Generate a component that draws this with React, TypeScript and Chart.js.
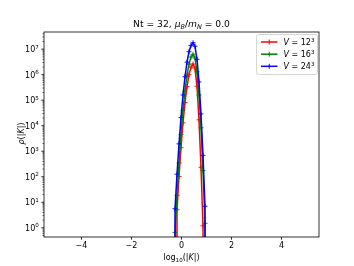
import React, { useEffect, useRef } from "react";
import { Chart, registerables } from "chart.js";

Chart.register(...registerables);

// ---- data ----
const logK = [-0.34, -0.26, -0.18, -0.1, -0.02, 0.06, 0.14, 0.22, 0.3, 0.38, 0.46, 0.54, 0.62, 0.7, 0.78, 0.86, 0.94, 1.02];
const rhoV12 = [0, 0, 5.1, 102, 1380, 1.3e4, 8.1e4, 3.4e5, 1.0e6, 1.95e6, 2.6e6, 1.8e6, 3.5e5, 1.7e4, 234, 1.2, 0, 0];
const rhoV16 = [0, 0.66, 18.6, 347, 4470, 4.0e4, 2.3e5, 9.5e5, 2.6e6, 4.9e6, 6.3e6, 4.5e6, 1.3e6, 1.6e5, 8300, 174, 1.5, 0];
const rhoV24 = [0, 5.6, 126, 1950, 2.1e4, 1.6e5, 8.3e5, 3.1e6, 7.9e6, 1.4e7, 1.78e7, 1.3e7, 4.0e6, 5.2e5, 2.9e4, 690, 7, 0];
const seriesSizes = ["12", "16", "24"];
const seriesColors = ["#ff0000", "#008000", "#0000ff"];
const xTickValues = [-4, -2, 0, 2, 4];
const xRange = [-5.5, 5.5];
const yRange = [0.436, 4.7e7];

type Seg = { t: string; it?: boolean; sub?: boolean; sup?: boolean };
const FONT = '"DejaVu Sans"';

function segFont(size: number, s: Seg) {
  const sz = s.sub || s.sup ? size * 0.7 : size;
  return `${s.it ? "italic " : ""}${sz}px ${FONT}`;
}
function measureSegs(ctx: CanvasRenderingContext2D, segs: Seg[], size: number) {
  let w = 0;
  for (const s of segs) {
    ctx.font = segFont(size, s);
    w += ctx.measureText(s.t).width;
  }
  return w;
}
function drawSegs(ctx: CanvasRenderingContext2D, segs: Seg[], x: number, y: number, size: number) {
  ctx.textBaseline = "alphabetic";
  ctx.textAlign = "left";
  for (const s of segs) {
    ctx.font = segFont(size, s);
    const dy = s.sub ? size * 0.22 : s.sup ? -size * 0.42 : 0;
    ctx.fillText(s.t, x, y + dy);
    x += ctx.measureText(s.t).width;
  }
}

const titleSegs: Seg[] = [
  { t: "Nt = 32, " },
  { t: "μ", it: true },
  { t: "B", it: true, sub: true },
  { t: "/" },
  { t: "m", it: true },
  { t: "N", it: true, sub: true },
  { t: " = 0.0" },
];
const xLabelSegs: Seg[] = [{ t: "log" }, { t: "10", sub: true }, { t: "(|" }, { t: "K", it: true }, { t: "|)" }];
const yLabelSegs: Seg[] = [{ t: "ρ", it: true }, { t: "(|" }, { t: "K", it: true }, { t: "|)" }];

const decorPlugin = {
  id: "decor",
  afterDraw(chart: any) {
    const ctx: CanvasRenderingContext2D = chart.ctx;
    const { left, right, top, bottom } = chart.chartArea;
    const xs = chart.scales.x;
    const ys = chart.scales.y;
    ctx.save();
    ctx.fillStyle = "#000";
    ctx.strokeStyle = "#000";

    // frame
    ctx.lineWidth = 0.8;
    ctx.strokeRect(left, top, right - left, bottom - top);

    const tickFont = 8;
    // x ticks
    ctx.lineWidth = 0.8;
    for (const v of xTickValues) {
      const px = xs.getPixelForValue(v);
      ctx.beginPath();
      ctx.moveTo(px, bottom);
      ctx.lineTo(px, bottom + 2.7);
      ctx.stroke();
      ctx.font = `${tickFont}px ${FONT}`;
      ctx.textAlign = "center";
      ctx.textBaseline = "top";
      ctx.fillText(v < 0 ? "\u2212" + Math.abs(v) : String(v), px, bottom + 5.2);
    }

    // y ticks (log)
    const dMin = Math.floor(Math.log10(yRange[0]));
    const dMax = Math.ceil(Math.log10(yRange[1]));
    for (let d = dMin; d <= dMax; d++) {
      for (let m = 1; m <= 9; m++) {
        const val = m * Math.pow(10, d);
        if (val < yRange[0] || val > yRange[1]) continue;
        const py = ys.getPixelForValue(val);
        const len = m === 1 ? 2.7 : 1.5;
        ctx.lineWidth = m === 1 ? 0.8 : 0.6;
        ctx.beginPath();
        ctx.moveTo(left, py);
        ctx.lineTo(left - len, py);
        ctx.stroke();
        if (m === 1) {
          const segs: Seg[] = [{ t: "10" }, { t: String(d), sup: true }];
          const w = measureSegs(ctx, segs, tickFont);
          drawSegs(ctx, segs, left - 5.2 - w, py + tickFont * 0.36, tickFont);
        }
      }
    }

    // title
    const tSize = 9.2;
    const tw = measureSegs(ctx, titleSegs, tSize);
    drawSegs(ctx, titleSegs, (left + right) / 2 - tw / 2, 27, tSize);

    // x label
    const lSize = 8;
    const xw = measureSegs(ctx, xLabelSegs, lSize);
    drawSegs(ctx, xLabelSegs, (left + right) / 2 - xw / 2, 260, lSize);

    // y label
    const yw = measureSegs(ctx, yLabelSegs, lSize);
    ctx.save();
    ctx.translate(23.5, (top + bottom) / 2 - 1);
    ctx.rotate(-Math.PI / 2);
    drawSegs(ctx, yLabelSegs, -yw / 2, 0, lSize);
    ctx.restore();

    // legend
    const bx = 256.5, by = 34.5, bw = 61, bh = 40;
    ctx.fillStyle = "rgba(255,255,255,0.8)";
    ctx.strokeStyle = "#cccccc";
    ctx.lineWidth = 0.8;
    ctx.beginPath();
    (ctx as any).roundRect(bx, by, bw, bh, 2);
    ctx.fill();
    ctx.stroke();
    const rows = [42, 54.2, 66.3];
    for (let i = 0; i < seriesSizes.length; i++) {
      const ry = rows[i];
      ctx.strokeStyle = seriesColors[i];
      ctx.lineWidth = 1.5;
      ctx.beginPath();
      ctx.moveTo(261, ry);
      ctx.lineTo(277.5, ry);
      ctx.stroke();
      ctx.lineWidth = 1;
      ctx.beginPath();
      ctx.moveTo(269.25, ry - 2.5);
      ctx.lineTo(269.25, ry + 2.5);
      ctx.stroke();
      ctx.fillStyle = "#000";
      const segs: Seg[] = [{ t: "V", it: true }, { t: " = " + seriesSizes[i] }, { t: "3", sup: true }];
      drawSegs(ctx, segs, 283.5, ry + 3, lSize);
    }
    ctx.restore();
  },
};

export default function App() {
  const ref = useRef<HTMLCanvasElement | null>(null);
  useEffect(() => {
    document.body.style.margin = "0";
    const canvas = ref.current!;
    const series = [rhoV12, rhoV16, rhoV24];
    const datasets = series.map((vals, i) => ({
      label: "V = " + seriesSizes[i] + "^3",
      data: logK.map((x, j) => ({ x, y: vals[j] === 0 ? 1e-300 : vals[j] })),
      borderColor: seriesColors[i],
      backgroundColor: seriesColors[i],
      borderWidth: 1.5,
      pointStyle: "cross",
      pointRadius: 2.5,
      pointBorderWidth: 0.9,
      pointBorderColor: seriesColors[i],
      tension: 0,
      fill: false,
      order: 2 - i,
    }));
    const chart = new Chart(canvas, {
      type: "line",
      data: { datasets },
      options: {
        animation: false,
        responsive: false,
        devicePixelRatio: 1,
        layout: { padding: { left: 44, right: 35, top: 32, bottom: 29 } },
        plugins: { legend: { display: false }, title: { display: false }, tooltip: { enabled: false } },
        scales: {
          x: { type: "linear", min: xRange[0], max: xRange[1], display: false },
          y: { type: "logarithmic", min: yRange[0], max: yRange[1], display: false },
        },
      },
      plugins: [decorPlugin],
    } as any);
    return () => chart.destroy();
  }, []);
  return <canvas ref={ref} width={354} height={266} style={{ display: "block", width: 354, height: 266 }} />;
}
